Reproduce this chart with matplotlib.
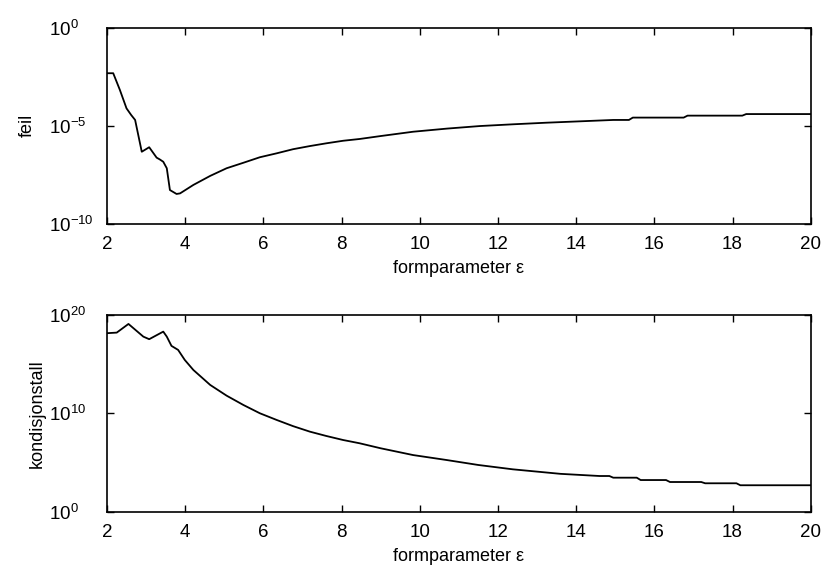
#
#       Feil og kondisjonstall som funksjon av formparameteren
#

import numpy as np
import matplotlib
matplotlib.use("Agg")
import matplotlib.pyplot as plt
from matplotlib.ticker import FixedLocator, NullLocator

plt.rcParams['font.family'] = ['Liberation Sans', 'DejaVu Sans']
plt.rcParams['mathtext.fontset'] = 'custom'
plt.rcParams['mathtext.rm'] = 'Liberation Sans'

#   Formparameter og log10 av feilen
eps_feil = [2.0, 2.16, 2.33, 2.50, 2.62, 2.72, 2.89, 3.08, 3.27, 3.35, 3.44,
            3.53, 3.61, 3.78, 3.87, 4.21, 4.64, 5.06, 5.49, 5.91, 6.34, 6.76,
            7.19, 7.61, 8.04, 8.46, 9.0, 9.83, 10.7, 11.54, 12.4, 13.24, 14.1,
            14.95, 15.35, 15.45, 16.75, 16.85, 18.25, 18.35, 20.0]
log_feil = [-2.32, -2.32, -3.17, -4.11, -4.45, -4.70, -6.32, -6.09, -6.62,
            -6.71, -6.83, -7.16, -8.27, -8.47, -8.44, -8.01, -7.55, -7.16,
            -6.88, -6.60, -6.40, -6.19, -6.03, -5.89, -5.76, -5.67, -5.52,
            -5.30, -5.14, -5.01, -4.92, -4.84, -4.77, -4.70, -4.70, -4.58,
            -4.58, -4.48, -4.48, -4.40, -4.40]

#   Formparameter og log10 av kondisjonstallet
eps_kond = [2.0, 2.25, 2.55, 2.93, 3.08, 3.44, 3.53, 3.65, 3.82, 3.99,
            4.21, 4.64, 5.06, 5.49, 5.91, 6.34, 6.76, 7.19, 7.61, 8.04, 8.46,
            9.0, 9.83, 10.68, 11.5, 12.38, 13.6, 14.6, 14.85, 14.95, 15.55,
            15.65, 16.3, 16.4, 17.2, 17.3, 18.1, 18.2, 20.0]
log_kond = [18.15, 18.21, 19.09, 17.80, 17.54, 18.31, 17.80, 16.86,
            16.45, 15.43, 14.41, 12.89, 11.80, 10.85, 10.01, 9.33, 8.70, 8.14,
            7.70, 7.29, 6.96, 6.45, 5.76, 5.26, 4.75, 4.31, 3.85, 3.63, 3.63,
            3.46, 3.46, 3.22, 3.22, 3.02, 3.02, 2.89, 2.89, 2.69, 2.69]

x_ticks = [2, 4, 6, 8, 10, 12, 14, 16, 18, 20]

fig = plt.figure(figsize=(8.26, 5.72), dpi=100)
ax1 = fig.add_axes([0.1295, 0.6084, 0.852, 0.3432])
ax2 = fig.add_axes([0.1295, 0.1054, 0.852, 0.3439])

ax1.semilogy(eps_feil, 10.0 ** np.array(log_feil), color='black', lw=1.3)
ax2.semilogy(eps_kond, 10.0 ** np.array(log_kond), color='black', lw=1.3)

ax1.set_ylim(1e-10, 1e0)
ax1.yaxis.set_major_locator(FixedLocator([1e-10, 1e-5, 1e0]))
ax1.set_ylabel("feil", fontsize=13)
ax1.yaxis.set_label_coords(-0.101, 0.5)

ax2.set_ylim(1e0, 1e20)
ax2.yaxis.set_major_locator(FixedLocator([1e0, 1e10, 1e20]))
ax2.set_ylabel("kondisjonstall", fontsize=13)
ax2.yaxis.set_label_coords(-0.087, 0.5)

#   Felles utseende for begge aksene
for ax in (ax1, ax2):
    ax.set_xlim(2, 20)
    ax.set_xticks(x_ticks)
    ax.yaxis.set_minor_locator(NullLocator())
    ax.set_xlabel("formparameter ε", fontsize=13, labelpad=5)
    ax.tick_params(axis='both', which='major', direction='in', top=True,
                   right=True, labelsize=13.5, length=5, width=1)
    ax.tick_params(axis='x', pad=9)
    #   Tallene "10" starter samme sted, eksponenten stikker ut til høyre
    ax.tick_params(axis='y', pad=41.4)
    for lab in ax.get_yticklabels():
        lab.set_horizontalalignment('left')
    for s in ax.spines.values():
        s.set_linewidth(1.2)

fig.savefig('out.png', dpi=100)
